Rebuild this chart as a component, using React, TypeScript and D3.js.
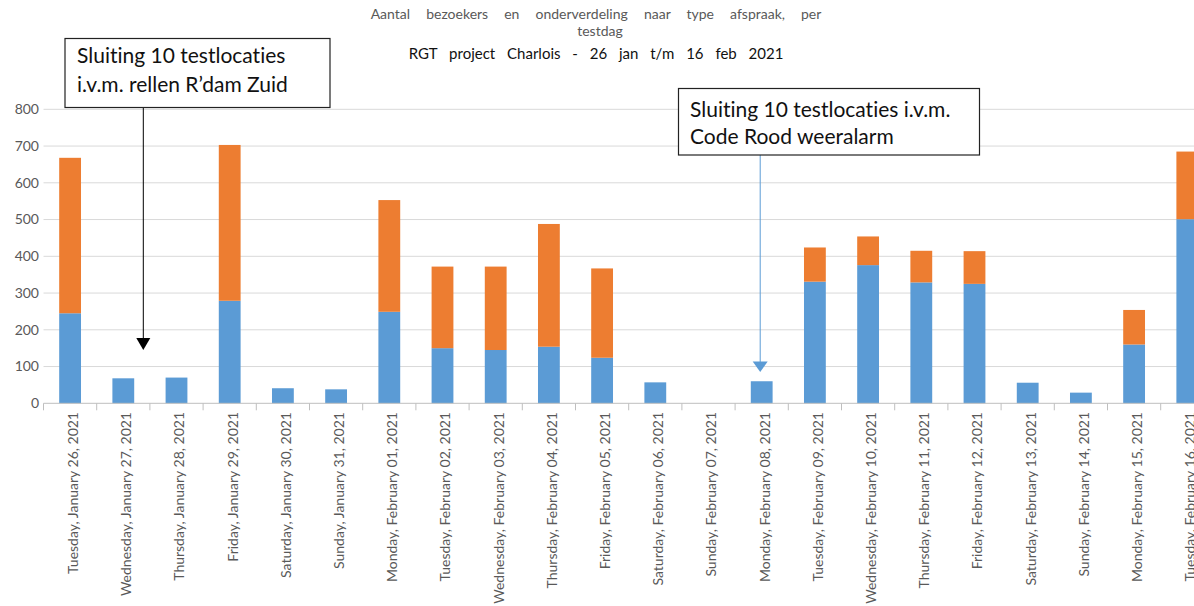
import React from "react";
import * as d3 from "d3";

const categories = [
  "Tuesday, January 26, 2021",
  "Wednesday, January 27, 2021",
  "Thursday, January 28, 2021",
  "Friday, January 29, 2021",
  "Saturday, January 30, 2021",
  "Sunday, January 31, 2021",
  "Monday, February 01, 2021",
  "Tuesday, February 02, 2021",
  "Wednesday, February 03, 2021",
  "Thursday, February 04, 2021",
  "Friday, February 05, 2021",
  "Saturday, February 06, 2021",
  "Sunday, February 07, 2021",
  "Monday, February 08, 2021",
  "Tuesday, February 09, 2021",
  "Wednesday, February 10, 2021",
  "Thursday, February 11, 2021",
  "Friday, February 12, 2021",
  "Saturday, February 13, 2021",
  "Sunday, February 14, 2021",
  "Monday, February 15, 2021",
  "Tuesday, February 16, 2021",
];

const blueValues = [245, 68, 70, 279, 41, 38, 249, 150, 145, 154, 124, 57, 0, 60, 331, 376, 329, 325, 56, 29, 160, 501];
const orangeValues = [423, 0, 0, 424, 0, 0, 304, 222, 227, 334, 243, 0, 0, 0, 93, 78, 86, 89, 0, 0, 94, 184];

const yTicks = [0, 100, 200, 300, 400, 500, 600, 700, 800];

const titleLine1 = "Aantal bezoekers en onderverdeling naar type afspraak, per";
const titleLine2 = "testdag";
const titleLine3 = "RGT project Charlois - 26 jan t/m 16 feb 2021";

const note1 = ["Sluiting 10 testlocaties", "i.v.m. rellen R\u2019dam Zuid"];
const note2 = ["Sluiting 10 testlocaties i.v.m.", "Code Rood weeralarm"];

const W = 1194;
const H = 606;
const X0 = 43.5;
const STEP = 53.2;
const Y0 = 403.3;
const Y800 = 109.3;

const BLUE = "#5b9bd5";
const ORANGE = "#ed7d31";
const FONT = "Lato, 'Open Sans', sans-serif";

export default function App() {
  const x = d3
    .scaleBand<string>()
    .domain(categories)
    .range([X0, X0 + STEP * categories.length])
    .paddingInner(0.59)
    .paddingOuter(0.295);
  const y = d3.scaleLinear().domain([0, 800]).range([Y0, Y800]);

  const rows = categories.map((c, i) => ({ c, blue: blueValues[i], orange: orangeValues[i] }));
  const stack = d3.stack<any>().keys(["blue", "orange"])(rows);
  const colors: Record<string, string> = { blue: BLUE, orange: ORANGE };

  const center = (c: string) => (x(c) as number) + x.bandwidth() / 2;
  const a1x = center(categories[1]) + 20;
  const a2x = center(categories[13]) - 1.5;

  return (
    <>
      <style>{`body{margin:0;} svg text{font-variant-ligatures:none;font-feature-settings:"liga" 0;}`}</style>
      <svg width={W} height={H} style={{ display: "block", background: "#fff" }} fontFamily={FONT}>
        {/* title */}
        <text x={596} y={19} textAnchor="middle" fontSize={14} fill="#595959" wordSpacing={12.5}>
          {titleLine1}
        </text>
        <text x={600} y={36} textAnchor="middle" fontSize={14} fill="#595959">
          {titleLine2}
        </text>
        <text x={596} y={59} textAnchor="middle" fontSize={15} fill="#111" wordSpacing={8}>
          {titleLine3}
        </text>

        {/* gridlines */}
        {yTicks.map((t) => (
          <g key={t}>
            {t > 0 && <line x1={X0} x2={W} y1={y(t)} y2={y(t)} stroke="#d9d9d9" strokeWidth={1} />}
            <text x={39} y={y(t)} dy="0.35em" textAnchor="end" fontSize={14} fill="#595959">
              {t}
            </text>
          </g>
        ))}

        {/* bars */}
        {stack.map((s) => (
          <g key={s.key} fill={colors[s.key]}>
            {s.map((d: any, i: number) =>
              d[1] - d[0] > 0 ? (
                <rect
                  key={i}
                  x={x(categories[i])}
                  width={x.bandwidth()}
                  y={y(d[1])}
                  height={y(d[0]) - y(d[1])}
                />
              ) : null
            )}
          </g>
        ))}

        {/* x axis */}
        <line x1={X0} x2={W} y1={Y0} y2={Y0} stroke="#bfbfbf" strokeWidth={1} />
        {d3.range(categories.length + 1).map((i) => (
          <line key={i} x1={X0 + i * STEP} x2={X0 + i * STEP} y1={Y0} y2={Y0 + 7} stroke="#bfbfbf" />
        ))}
        {categories.map((c) => (
          <text
            key={c}
            transform={`translate(${center(c) + 3},412) rotate(-90)`}
            textAnchor="end"
            dy="0.35em"
            fontSize={14}
            fill="#595959"
          >
            {c}
          </text>
        ))}

        {/* annotation 1 */}
        <line x1={a1x} x2={a1x} y1={107.3} y2={339} stroke="#000" strokeWidth={1} />
        <path d={`M${a1x - 7},338 L${a1x + 7},338 L${a1x},350 Z`} fill="#000" />
        <rect x={65} y={38.5} width={265} height={69} fill="#fff" stroke="#222" strokeWidth={1.2} />
        {note1.map((t, i) => (
          <text key={i} x={77} y={63 + i * 28.5} fontSize={21} fill="#111">
            {t}
          </text>
        ))}

        {/* annotation 2 */}
        <line x1={a2x} x2={a2x} y1={155} y2={363} stroke={BLUE} strokeWidth={1} />
        <path d={`M${a2x - 7.5},361.5 L${a2x + 7.5},361.5 L${a2x},372 Z`} fill={BLUE} />
        <rect x={678.5} y={88.5} width={301} height={66.5} fill="#fff" stroke="#222" strokeWidth={1.2} />
        {note2.map((t, i) => (
          <text key={i} x={690} y={116.5 + i * 27} fontSize={21} fill="#111">
            {t}
          </text>
        ))}
      </svg>
    </>
  );
}
